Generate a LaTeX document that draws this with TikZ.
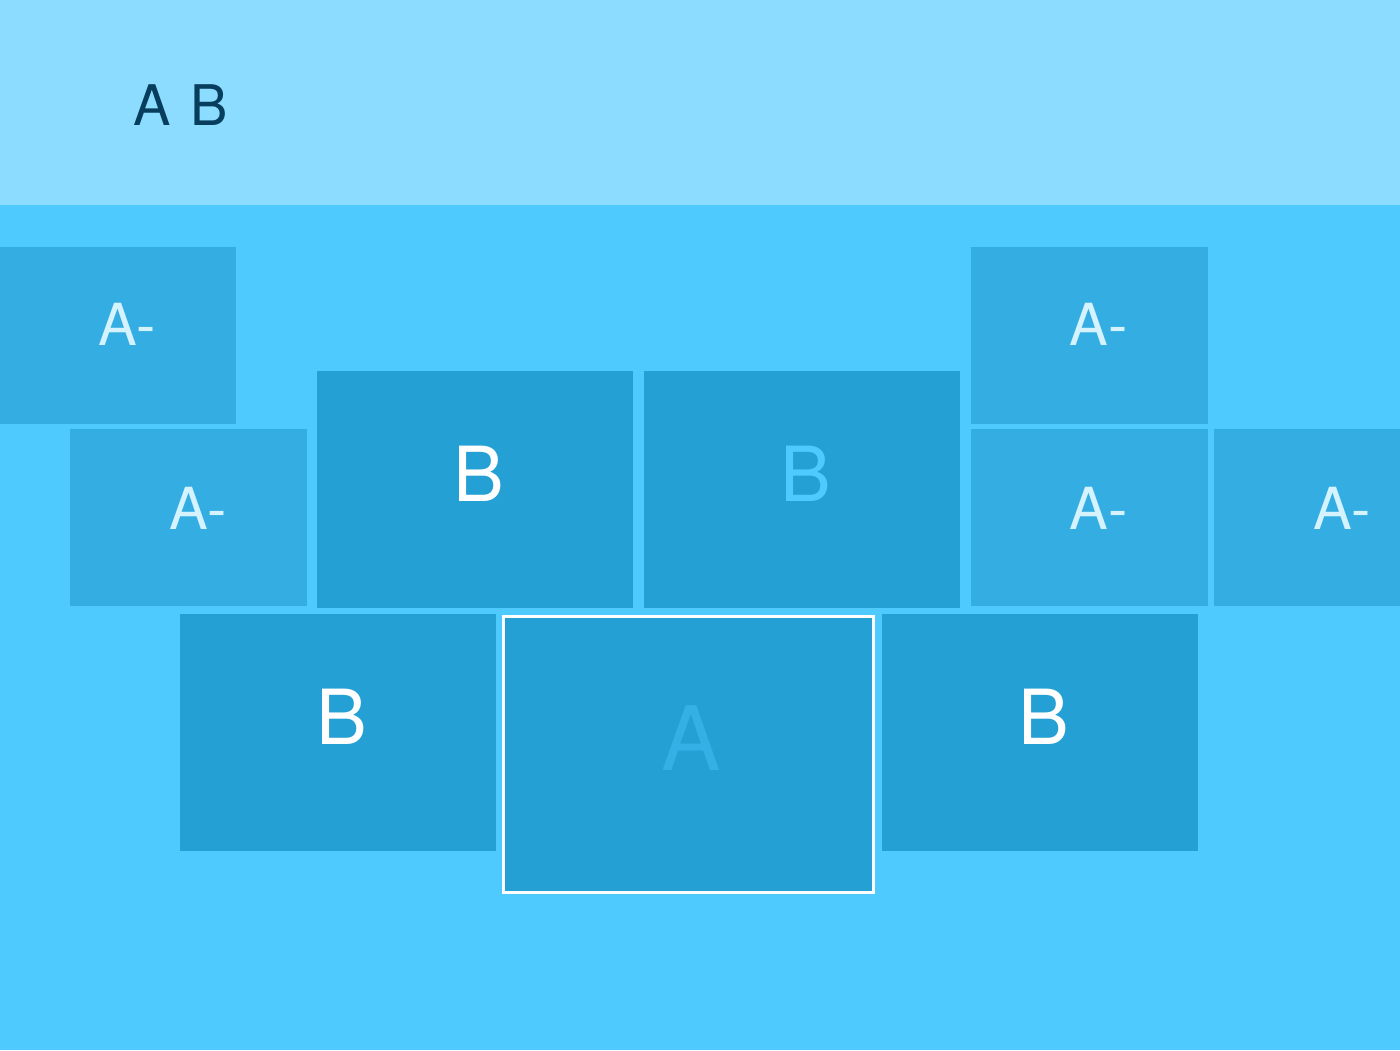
\documentclass[tikz,border=0pt]{standalone}
\usepackage{fontspec}
\setmainfont{TeX Gyre Heros}
\definecolor{headbg}{HTML}{8BDCFF}
\definecolor{bodybg}{HTML}{4FCAFF}
\definecolor{aminus}{HTML}{33ADE2}
\definecolor{bfill}{HTML}{24A0D4}
\definecolor{alabel}{HTML}{D4F3FF}
\definecolor{ctrlabel}{HTML}{34B0E6}
\definecolor{titlecol}{HTML}{073E5E}
\begin{document}
\begin{tikzpicture}[x=1pt,y=-1pt,
  tile/.style={draw=none,inner sep=0pt,outer sep=0pt,anchor=north west},
  aminusbox/.style={tile,fill=aminus,minimum width=237pt,minimum height=177pt},
  bbox/.style={tile,fill=bfill,minimum width=316pt,minimum height=237pt},
  aminuslbl/.style={anchor=base,inner sep=0pt,text=alabel,font=\fontsize{58}{60}\selectfont},
  blbl/.style={anchor=base,inner sep=0pt,text=white,font=\fontsize{76}{78}\selectfont},
]
\useasboundingbox (0,0) rectangle (1400,1050);
\fill[bodybg] (0,0) rectangle (1400,1050);
\fill[headbg] (0,0) rectangle (1400,205);
\node[anchor=base west,inner sep=0pt,text=titlecol,font=\fontsize{56}{58}\selectfont] (title) at (133,125) {\spaceskip=19.5pt\relax A B};
% A- tiles
\node[aminusbox,minimum width=236pt] (am1) at (0,247) {};
\node[aminusbox] (am2) at (70,429) {};
\node[aminusbox] (am3) at (971,247) {};
\node[aminusbox] (am4) at (971,429) {};
\node[aminusbox,minimum width=186pt] (am5) at (1214,429) {};
\node[aminuslbl] (am1t) at (127,345) {A-};
\node[aminuslbl] (am2t) at (198,529) {A-};
\node[aminuslbl] (am3t) at (1098.5,345) {A-};
\node[aminuslbl] (am4t) at (1098.5,529) {A-};
\node[aminuslbl] (am5t) at (1342,529) {A-};
% B tiles
\node[bbox] (b1) at (317,371) {};
\node[bbox] (b2) at (644,371) {};
\node[bbox] (b3) at (180,614) {};
\node[bbox] (b4) at (882,614) {};
\node[blbl] (b1t) at (478.5,501) {B};
\node[blbl,text=bodybg] (b2t) at (805.5,501) {B};
\node[blbl] (b3t) at (342,744) {B};
\node[blbl] (b4t) at (1044,744) {B};
% centre A tile
\node[tile,fill=bfill,draw=white,line width=3pt,minimum width=370pt,minimum height=276pt] (ctr) at (503.5,616.5) {};
\node[anchor=base,inner sep=0pt,text=ctrlabel,font=\fontsize{89}{91}\selectfont] (ctrt) at (691.5,770) {A};
\end{tikzpicture}
\end{document}
